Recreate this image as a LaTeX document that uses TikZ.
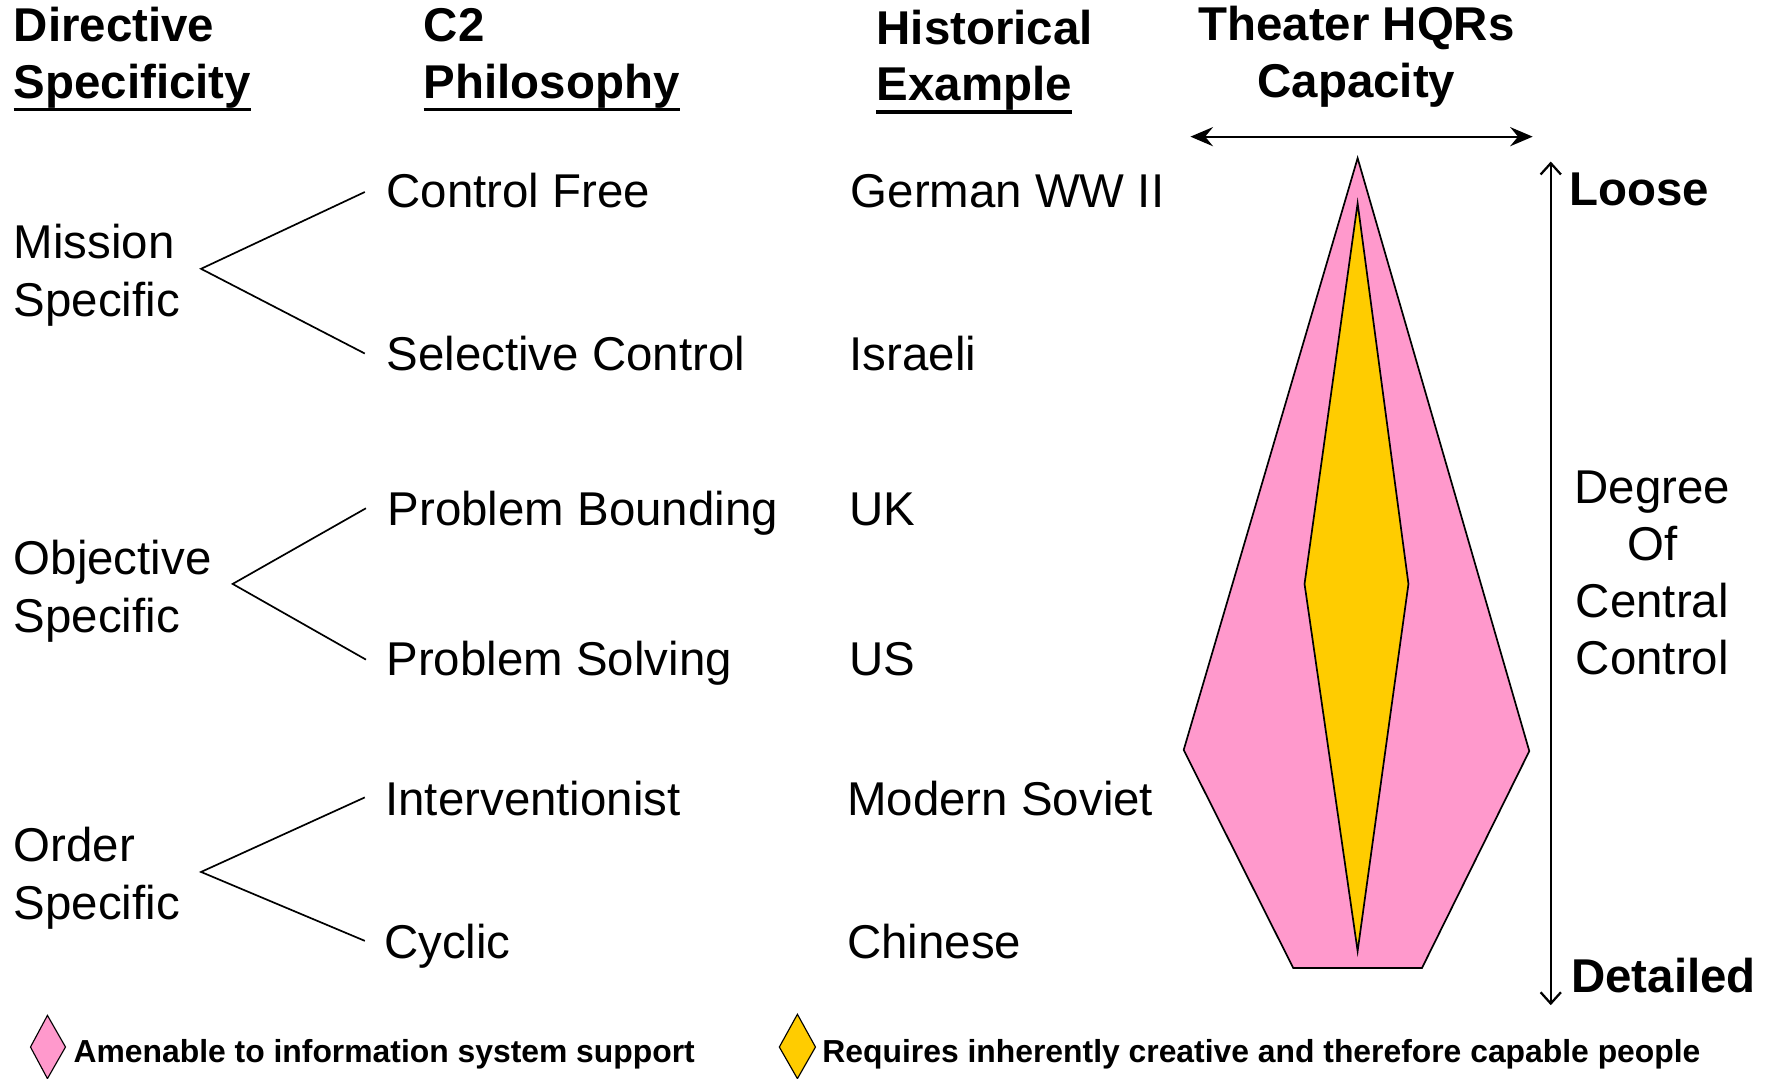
\documentclass[tikz,border=0pt]{standalone}
\usepackage{fontspec}
\setmainfont{Liberation Sans}
\usetikzlibrary{arrows.meta}
\definecolor{pinkfill}{HTML}{FF99CC}
\definecolor{goldfill}{HTML}{FFCC00}
\begin{document}
\begin{tikzpicture}[x=1pt,y=-1pt,
  txt/.style={inner sep=0pt, anchor=base west, font=\fontsize{42}{50.5}\selectfont},
  hdr/.style={inner sep=0pt, anchor=base west, font=\fontsize{42}{50.5}\selectfont\bfseries},
  leg/.style={inner sep=0pt, anchor=base west, font=\fontsize{28.2}{32}\selectfont\bfseries},
  brace/.style={line width=1.5pt},
  ul/.style={line width=3pt},
  shapeline/.style={line width=1.5pt, line join=miter}]
\useasboundingbox (0,0) rectangle (1568,955);

% headers
\node[hdr] (h1a) at (12,37) {Directive};
\node[hdr] (h1b) at (12,87) {Specificity};
\node[hdr] (h2a) at (375,37) {C2};
\node[hdr] (h2b) at (375,87) {Philosophy};
\node[hdr] (h3a) at (776,39) {Historical};
\node[hdr] (h3b) at (776,89) {Example};
\node[hdr, anchor=base] (h4a) at (1201,36) {Theater HQRs};
\node[hdr, anchor=base] (h4b) at (1201,86) {Capacity};
\draw[ul] ([yshift=-10pt]h1b.base west) -- ([yshift=-10pt]h1b.base east);
\draw[ul] ([yshift=-10pt]h2b.base west) -- ([yshift=-10pt]h2b.base east);
\draw[ul] ([yshift=-10pt]h3b.base west) -- ([yshift=-10pt]h3b.base east);

% directive specificity
\node[txt] (ms1) at (12,229) {Mission};
\node[txt] (ms2) at (12,280) {Specific};
\node[txt] (os1) at (12,509) {Objective};
\node[txt] (os2) at (12,560) {Specific};
\node[txt] (or1) at (12,763) {Order};
\node[txt] (or2) at (12,814) {Specific};

% C2 philosophy
\node[txt] (cf) at (342,184) {Control Free};
\node[txt] (sc) at (342,328) {Selective Control};
\node[txt] (pb) at (343,465) {Problem Bounding};
\node[txt] (ps) at (342,598) {Problem Solving};
\node[txt] (iv) at (341,722) {Interventionist};
\node[txt] (cy) at (340,849) {Cyclic};

% historical examples
\node[txt] (ge) at (753,184) {German WW II};
\node[txt] (is) at (752,328) {Israeli};
\node[txt] (uk) at (752,465) {UK};
\node[txt] (us) at (752,598) {US};
\node[txt] (so) at (750,722) {Modern Soviet};
\node[txt] (ch) at (750,849) {Chinese};

% brackets
\coordinate (mv) at (178,238);
\coordinate (mt) at (323,170);
\coordinate (mb) at (323,313);
\coordinate (ov) at (206,517);
\coordinate (ot) at (324,450);
\coordinate (ob) at (324,584);
\coordinate (rv) at (178,772);
\coordinate (rt) at (323,706);
\coordinate (rb) at (323,833);
\draw[brace] (mt) -- (mv) -- (mb);
\draw[brace] (ot) -- (ov) -- (ob);
\draw[brace] (rt) -- (rv) -- (rb);

% capacity shape
\coordinate (pt) at (1202,140);
\coordinate (pl) at (1048,664);
\coordinate (pr) at (1354,665);
\coordinate (pbl) at (1145,857);
\coordinate (pbr) at (1259,857);
\draw[shapeline, fill=pinkfill] (pt) -- (pr) -- (pbr) -- (pbl) -- (pl) -- cycle;
\coordinate (yt) at (1202,180);
\coordinate (yl) at (1155,517);
\coordinate (yr) at (1247,517);
\coordinate (yb) at (1202,842);
\draw[shapeline, fill=goldfill] (yt) -- (yr) -- (yb) -- (yl) -- cycle;

% capacity arrow
\coordinate (cl) at (1054,121);
\coordinate (cr) at (1357,121);
\draw[line width=1.5pt, {Stealth[length=20pt,width=17pt,inset=7pt]}-{Stealth[length=20pt,width=17pt,inset=7pt]}] (cl) -- (cr);

% degree of central control
\node[hdr] (lo) at (1389,182) {Loose};
\node[hdr] (de) at (1391,879) {Detailed};
\coordinate (vt) at (1373,143);
\coordinate (vb) at (1373,890);
\draw[line width=2pt, {Straight Barb[length=10pt,width=18pt,line width=2pt]}-{Straight Barb[length=10pt,width=18pt,line width=2pt]}] (vb) -- (vt);
\node[inner sep=0pt, anchor=base, align=center, font=\fontsize{42}{50.5}\selectfont] (dc) at (1463,597) {Degree\\Of\\Central\\Control};

% legend
\draw[line width=1pt, fill=pinkfill] (42,899) -- (58,927) -- (42,955) -- (27,927) -- cycle;
\node[leg] (l1) at (65,941) {Amenable to information system support};
\draw[line width=1pt, fill=goldfill] (706,898) -- (722,927) -- (706,955) -- (690,927) -- cycle;
\node[leg] (l2) at (728,941) {Requires inherently creative and therefore capable people};
\end{tikzpicture}
\end{document}
